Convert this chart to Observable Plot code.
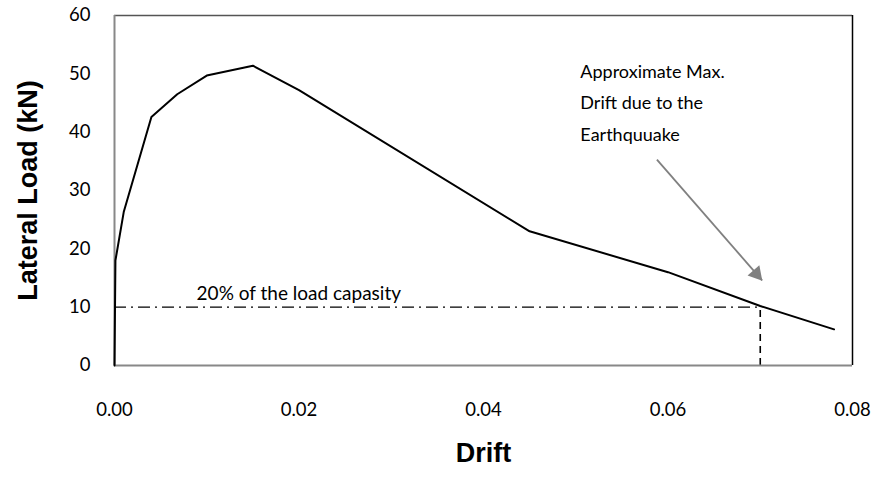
<!DOCTYPE html>
<html>
<head>
<meta charset="utf-8">
<script src="https://cdn.jsdelivr.net/npm/d3@7"></script>
<script src="https://cdn.jsdelivr.net/npm/@observablehq/plot@0.6"></script>
<style>
  html, body { margin: 0; padding: 0; background: #fff; }
  #chart { width: 880px; height: 480px; }
</style>
</head>
<body>
<div id="chart"></div>
<script>
// ---- data ----
const drift = [0, 0.0001, 0.001, 0.004, 0.0068, 0.01, 0.015, 0.02, 0.045, 0.06, 0.07, 0.078];
const load  = [0, 18, 26.3, 42.6, 46.5, 49.7, 51.4, 47.2, 23.0, 16.0, 10.2, 6.2];

const xTicks = [0, 0.02, 0.04, 0.06, 0.08];
const yTicks = [0, 10, 20, 30, 40, 50, 60];

const capacityLoad = 10;          // 20% of the load capacity
const maxDrift = 0.07;            // approximate max drift
const capacityLabel = "20% of the load capasity";
const capacityLabelX = [0.0089];
const capacityLabelY = [12.2];

const noteLines = ["Approximate Max.", "Drift due to the", "Earthquuake"];
const noteX = [0.0505, 0.0505, 0.0505];
const noteY = [50.3, 44.9, 39.5];

const arrowFrom = [0.0588, 35.3];
const arrowTo = [0.0702, 14.6];

const xTitle = "Drift";
const yTitle = "Lateral Load (kN)";

// ---- build tables ----
const curve = drift.map((d, i) => ({drift: d, load: load[i]}));
const notes = noteLines.map((t, i) => ({text: t, x: noteX[i], y: noteY[i]}));
const arrowData = [{x1: arrowFrom[0], y1: arrowFrom[1], x2: arrowTo[0], y2: arrowTo[1]}];

const chart = Plot.plot({
  width: 880,
  height: 480,
  marginLeft: 114,
  marginRight: 28,
  marginTop: 15,
  marginBottom: 115,
  style: {fontFamily: "Lato, 'Open Sans', sans-serif", background: "#fff", color: "#000"},
  x: {domain: [0, 0.08]},
  y: {domain: [0, 60]},
  marks: [
    // frame
    Plot.ruleY([60], {stroke: "#555", strokeWidth: 1.5}),
    Plot.ruleX([0.08], {stroke: "#000", strokeWidth: 1.5}),
    // reference lines
    Plot.ruleY([capacityLoad], {x1: 0, x2: maxDrift, stroke: "#000", strokeWidth: 1.2, strokeDasharray: "12,5,2,5"}),
    Plot.ruleX([maxDrift], {y1: 0, y2: capacityLoad, stroke: "#000", strokeWidth: 1.6, strokeDasharray: "7,5"}),
    // axes lines
    Plot.ruleX([0], {stroke: "#888", strokeWidth: 2}),
    Plot.ruleY([0], {stroke: "#888", strokeWidth: 2}),
    // the curve
    Plot.line(curve, {x: "drift", y: "load", stroke: "#000", strokeWidth: 2}),
    // annotation arrow
    Plot.link(arrowData, {x1: "x1", y1: "y1", x2: "x2", y2: "y2", stroke: "#808080", strokeWidth: 1.8}),
    Plot.dot(arrowData, {x: "x2", y: "y2", symbol: "triangle", r: 5.8, fill: "#808080", stroke: "none", rotate: 139, dx: -5.7, dy: -6.5}),
    // texts
    Plot.text(notes, {x: "x", y: "y", text: "text", textAnchor: "start", fontSize: 18, fill: "#000"}),
    Plot.text([capacityLabel], {x: capacityLabelX, y: capacityLabelY, textAnchor: "start", fontSize: 19, fill: "#000"}),
    // axes
    Plot.axisX(xTicks, {tickSize: 0, tickPadding: 37, fontSize: 18.5, tickFormat: d3.format(".2f"), label: null}),
    Plot.axisY(yTicks, {tickSize: 0, tickPadding: 24, fontSize: 18.5, label: null}),
    // titles
    Plot.text([xTitle], {frameAnchor: "bottom", dy: 96, fontSize: 27, fontWeight: "bold", fontFamily: "'Liberation Sans', Arial, sans-serif", fill: "#000"}),
    Plot.text([yTitle], {frameAnchor: "left", textAnchor: "middle", dx: -86, rotate: -90, fontSize: 27, fontWeight: "bold", fontFamily: "'Liberation Sans', Arial, sans-serif", fill: "#000"})
  ]
});
document.getElementById("chart").appendChild(chart);
</script>
</body>
</html>
